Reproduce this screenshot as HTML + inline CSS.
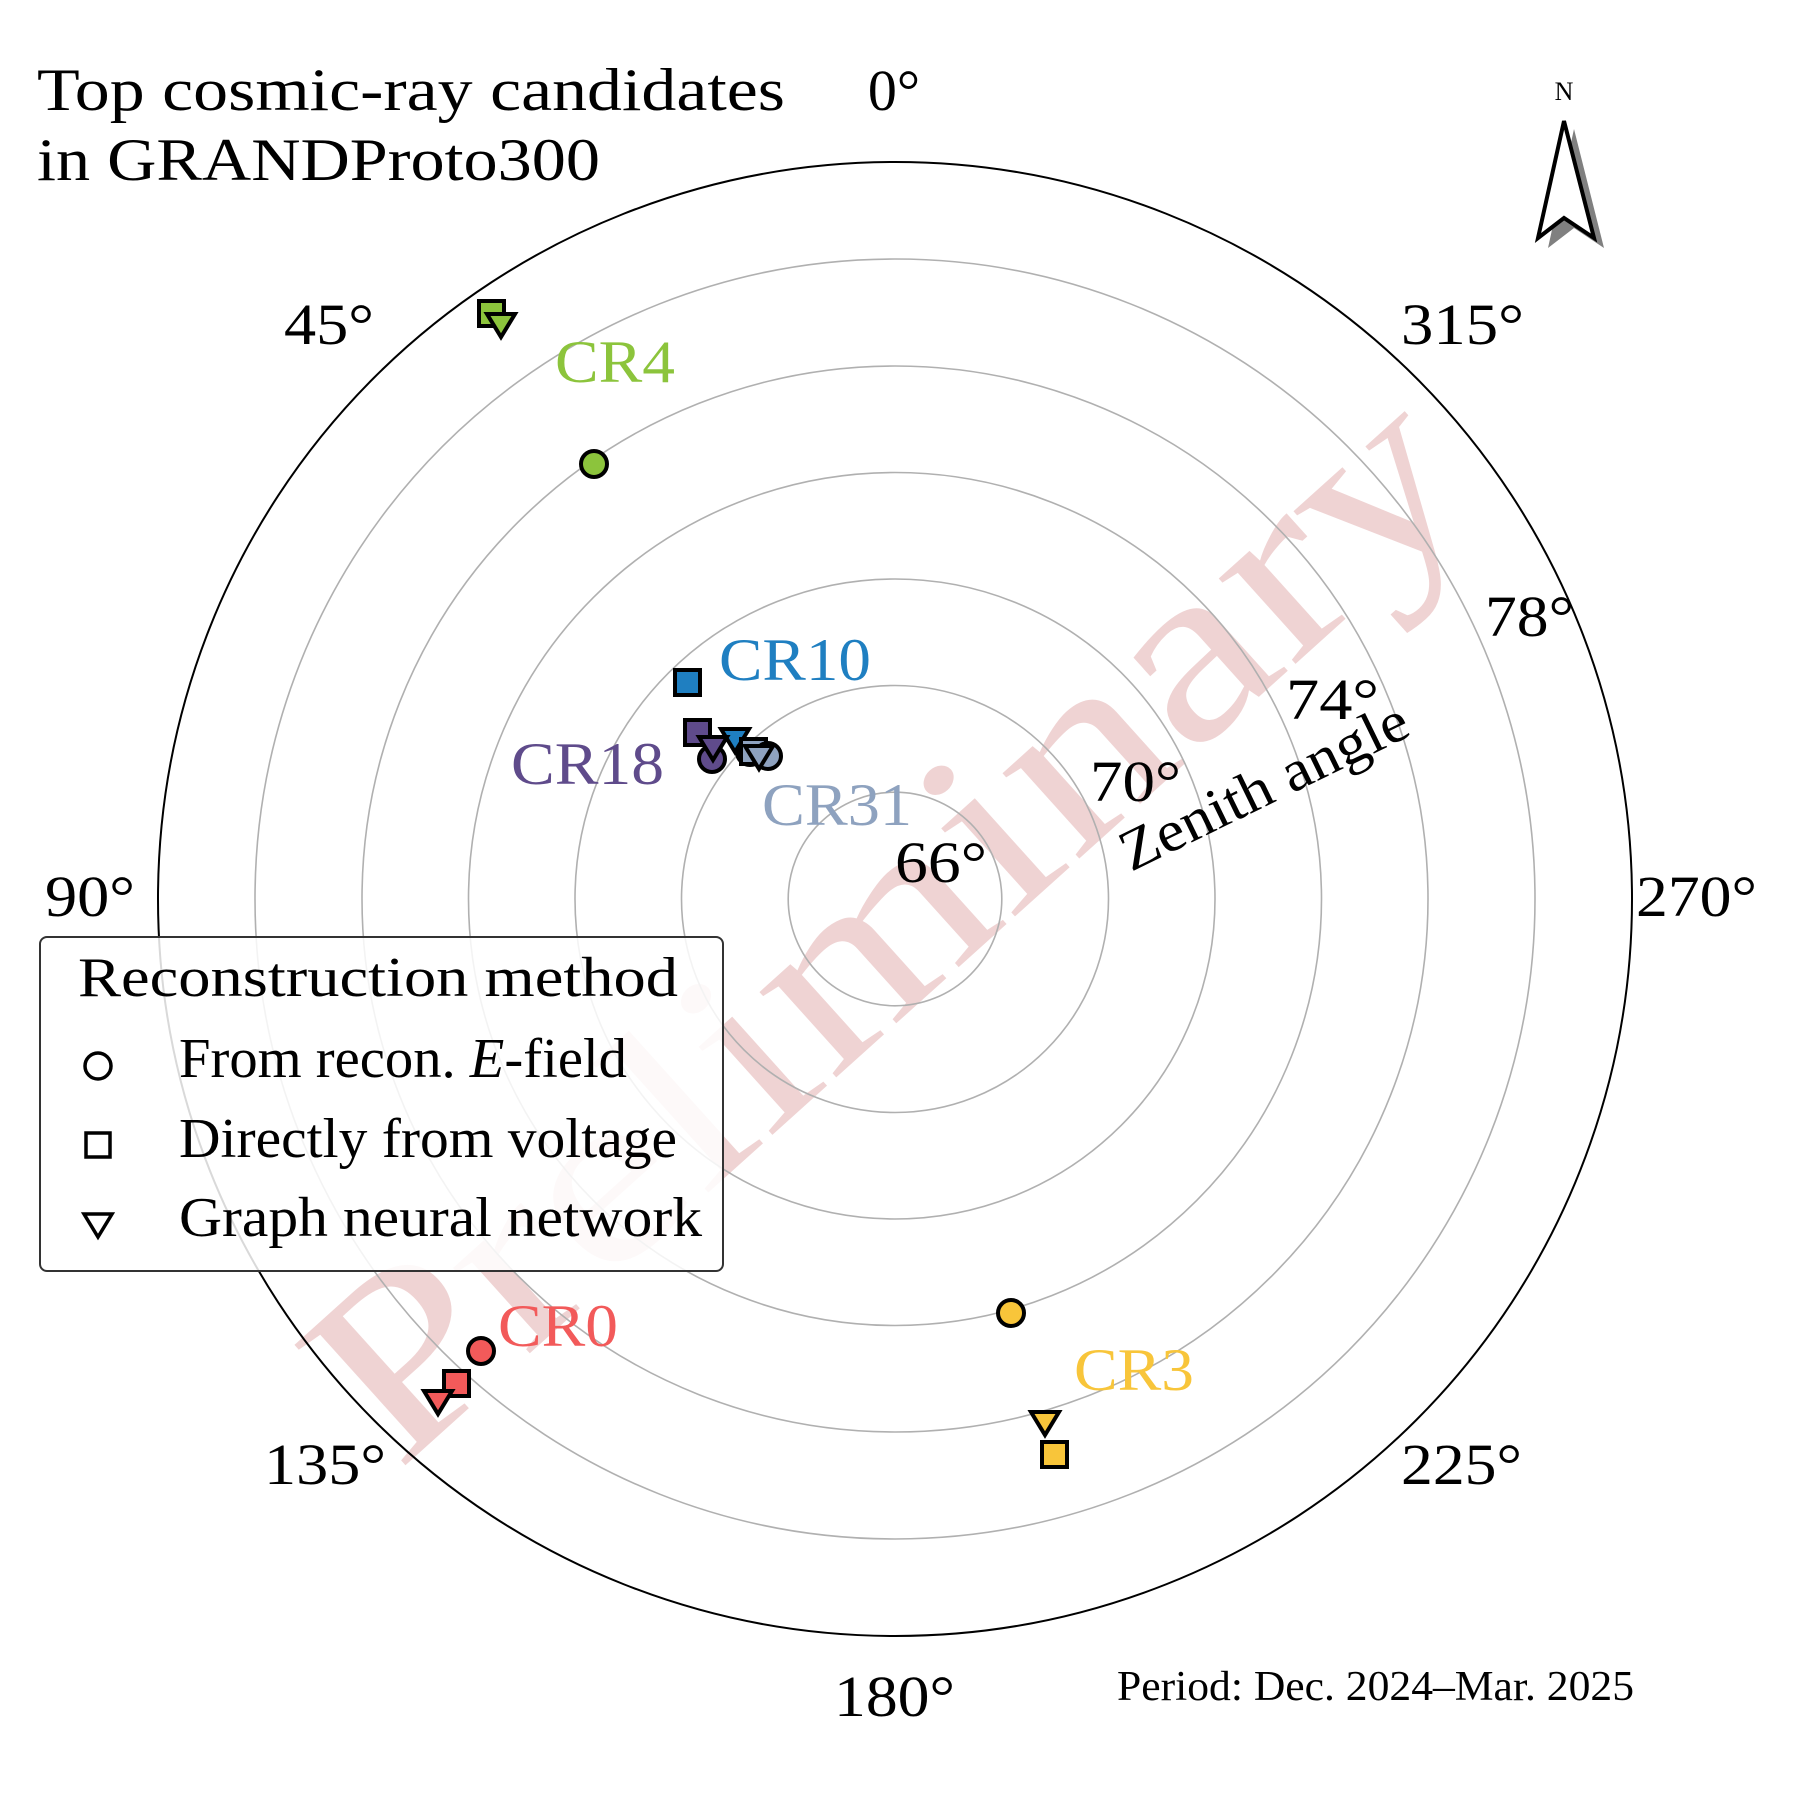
<!DOCTYPE html>
<html><head><meta charset="utf-8"><style>
html,body{margin:0;padding:0;background:#fff}
svg{display:block}
text{font-family:"Liberation Serif","DejaVu Serif",serif}
</style></head><body>
<svg width="1800" height="1800" viewBox="0 0 1800 1800" xmlns="http://www.w3.org/2000/svg">
<rect width="1800" height="1800" fill="#fff"/>
<text x="0" y="0" transform="translate(884,922) rotate(-42)" text-anchor="middle" dominant-baseline="central" font-size="250" fill="#e9c4c4" fill-opacity="0.75" textLength="1460" lengthAdjust="spacingAndGlyphs">Preliminary</text>
<g fill="none" stroke="#b0b0b0" stroke-width="1.6">
<circle cx="895" cy="899" r="106.8"/>
<circle cx="895" cy="899" r="213.5"/>
<circle cx="895" cy="899" r="320"/>
<circle cx="895" cy="899" r="426.5"/>
<circle cx="895" cy="899" r="533"/>
<circle cx="895" cy="899" r="640"/>
</g>
<circle cx="895" cy="899" r="737" fill="none" stroke="#000" stroke-width="2"/>
<g font-size="58" fill="#000">
<text x="894" y="110" text-anchor="middle">0°</text>
<text x="284" y="344" textLength="90" lengthAdjust="spacingAndGlyphs">45°</text>
<text x="1401" y="344" textLength="123" lengthAdjust="spacingAndGlyphs">315°</text>
<text x="45" y="916" textLength="90" lengthAdjust="spacingAndGlyphs">90°</text>
<text x="1636" y="916" textLength="121" lengthAdjust="spacingAndGlyphs">270°</text>
<text x="264" y="1484" textLength="122" lengthAdjust="spacingAndGlyphs">135°</text>
<text x="1401" y="1484" textLength="121" lengthAdjust="spacingAndGlyphs">225°</text>
<text x="834" y="1716" textLength="121" lengthAdjust="spacingAndGlyphs">180°</text>
<text x="895" y="882" textLength="92" lengthAdjust="spacingAndGlyphs">66°</text>
<text x="1090" y="801" textLength="91" lengthAdjust="spacingAndGlyphs">70°</text>
<text x="1286" y="719" textLength="93" lengthAdjust="spacingAndGlyphs">74°</text>
<text x="1485" y="636" textLength="89" lengthAdjust="spacingAndGlyphs">78°</text>
<text x="0" y="0" transform="translate(1131,872) rotate(-26)" textLength="314" lengthAdjust="spacingAndGlyphs">Zenith angle</text>
</g>
<g font-size="60" fill="#000">
<text x="37" y="110" textLength="748" lengthAdjust="spacingAndGlyphs">Top cosmic-ray candidates</text>
<text x="37" y="180" textLength="563" lengthAdjust="spacingAndGlyphs">in GRANDProto300</text>
</g>
<text x="1117" y="1700" font-size="42" textLength="517" lengthAdjust="spacingAndGlyphs" fill="#000">Period: Dec. 2024–Mar. 2025</text>
<g font-size="60">
<text x="555" y="382" fill="#8cc43c" textLength="120" lengthAdjust="spacingAndGlyphs">CR4</text>
<text x="719" y="680" fill="#1f7fc1" textLength="152" lengthAdjust="spacingAndGlyphs">CR10</text>
<text x="511" y="784" fill="#5f4b8b" textLength="153" lengthAdjust="spacingAndGlyphs">CR18</text>
<text x="762" y="825" fill="#8ea2bf" textLength="150" lengthAdjust="spacingAndGlyphs">CR31</text>
<text x="498" y="1346" fill="#f25a5a" textLength="120" lengthAdjust="spacingAndGlyphs">CR0</text>
<text x="1074" y="1390" fill="#f8c53a" textLength="120" lengthAdjust="spacingAndGlyphs">CR3</text>
</g>
<g stroke="#000" stroke-width="4" stroke-linejoin="miter">
<rect x="479" y="301" width="25" height="25" fill="#8cc43c"/>
<path d="M487,314 L515,314 L501,337 Z" fill="#8cc43c"/>
<circle cx="594" cy="464" r="13" fill="#8cc43c"/>
<rect x="675" y="670" width="25" height="25" fill="#1f7fc1"/>
<circle cx="750" cy="752" r="13" fill="#1f7fc1"/>
<rect x="685" y="720" width="25" height="25" fill="#5f4b8b"/>
<path d="M721,729 L749,729 L735,752 Z" fill="#1f7fc1"/>
<circle cx="712" cy="759" r="13" fill="#5f4b8b"/>
<path d="M699,737 L727,737 L713,760 Z" fill="#5f4b8b"/>
<rect x="741" y="739" width="25" height="25" fill="#8ea2bf"/>
<circle cx="768" cy="756" r="13" fill="#8ea2bf"/>
<path d="M745,746 L773,746 L759,769 Z" fill="#8ea2bf"/>
<circle cx="481" cy="1351" r="13" fill="#f25a5a"/>
<rect x="444" y="1371" width="25" height="25" fill="#f25a5a"/>
<path d="M424,1391 L452,1391 L438,1414 Z" fill="#f25a5a"/>
<circle cx="1011" cy="1313" r="13" fill="#f8c53a"/>
<path d="M1031,1412 L1059,1412 L1045,1435 Z" fill="#f8c53a"/>
<rect x="1042" y="1442" width="25" height="25" fill="#f8c53a"/>
</g>
<rect x="40" y="943" width="683" height="334" rx="7" fill="#fff" fill-opacity="0.85" stroke="#333" stroke-width="2" transform="translate(0,-6)"/>
<g font-size="56" fill="#000">
<text x="78" y="996" textLength="600" lengthAdjust="spacingAndGlyphs">Reconstruction method</text>
<text x="179" y="1077" textLength="448" lengthAdjust="spacingAndGlyphs">From recon. <tspan font-style="italic">E</tspan>-field</text>
<text x="179" y="1157" textLength="498" lengthAdjust="spacingAndGlyphs">Directly from voltage</text>
<text x="179" y="1236" textLength="523" lengthAdjust="spacingAndGlyphs">Graph neural network</text>
</g>
<g fill="none" stroke="#000" stroke-width="3.5">
<circle cx="98" cy="1066" r="13"/>
<rect x="86" y="1133" width="24" height="24"/>
<path d="M84,1214 L112,1214 L98,1237 Z"/>
</g>
<text x="1564" y="100" font-size="26" text-anchor="middle" fill="#000">N</text>
<path d="M1574,129 L1604,248 L1574,228 L1548,248 Z" fill="#808080"/>
<path d="M1564,121 L1594,238 L1564,218 L1538,238 Z" fill="#fff" stroke="#000" stroke-width="4" stroke-linejoin="miter"/>
</svg>
</body></html>
